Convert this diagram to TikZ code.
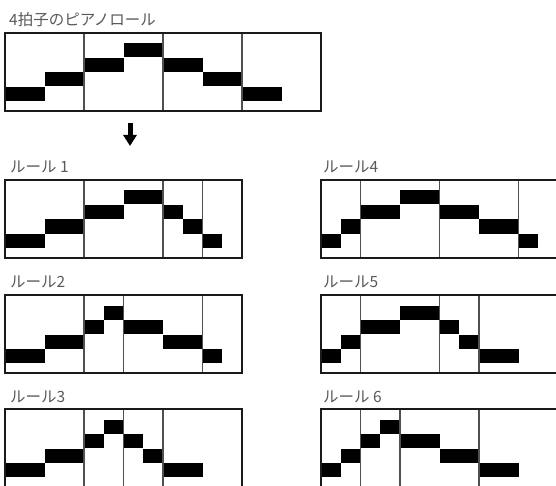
\documentclass[tikz,border=0pt]{standalone}
\usepackage{fontspec}
\newfontfamily\jpfont{Noto Sans CJK JP}
\usetikzlibrary{arrows.meta}
\definecolor{framecolor}{HTML}{1A1A1A}
\definecolor{beatcolor}{HTML}{505050}
\definecolor{labelcolor}{HTML}{595959}
\tikzset{
  rollframe/.style={draw=framecolor, line width=1.4pt},
  beatline/.style={draw=beatcolor, line width=1.1pt},
  notebar/.style={fill=black},
  rulelabel/.style={
    anchor=west,
    inner sep=0pt,
    text=labelcolor,
    font=\jpfont\fontsize{15.5}{18}\selectfont
  },
  downarrow/.style={-{Triangle[width=13pt,length=11pt]}, line width=5pt, draw=black}
}

\begin{document}
\begin{tikzpicture}[x=1pt, y=-1pt]
  \useasboundingbox (0,0) rectangle (556,486);
  % original roll
  \node[rulelabel] (title) at (9,19.5) {4拍子のピアノロール};
  \begin{scope}[shift={(5,33)}, x=19.75pt]
    \foreach \s/\e/\l in {0/2/0, 2/4/1, 4/6/2, 6/8/3, 8/10/2, 10/12/1, 12/14/0}
      \fill[notebar] (\s,{10.5+14.5*(3-\l)}) rectangle (\e,{24.5+14.5*(3-\l)});
    \foreach \b in {4,8,12}
      \draw[beatline] (\b,0) -- (\b,78);
    \draw[rollframe] (0,0) rectangle (16,78);
  \end{scope}
  \coordinate (arrowtop) at (130,123);
  \coordinate (arrowtip) at (130,146);
  \draw[downarrow] (arrowtop) -- (arrowtip);

  % rule 1
  \node[rulelabel] (rule1) at (10,167) {ルール 1};
  \begin{scope}[shift={(5,180)}, x=19.75pt]
    \foreach \s/\e/\l in {0/2/0, 2/4/1, 4/6/2, 6/8/3, 8/9/2, 9/10/1, 10/11/0}
      \fill[notebar] (\s,{10.5+14.5*(3-\l)}) rectangle (\e,{24.5+14.5*(3-\l)});
    \foreach \b in {4,8,10}
      \draw[beatline] (\b,0) -- (\b,78);
    \draw[rollframe] (0,0) rectangle (12,78);
  \end{scope}

  % rule 2
  \node[rulelabel] (rule2) at (10,282) {ルール2};
  \begin{scope}[shift={(5,295)}, x=19.75pt]
    \foreach \s/\e/\l in {0/2/0, 2/4/1, 4/5/2, 5/6/3, 6/8/2, 8/10/1, 10/11/0}
      \fill[notebar] (\s,{10.5+14.5*(3-\l)}) rectangle (\e,{24.5+14.5*(3-\l)});
    \foreach \b in {4,6,10}
      \draw[beatline] (\b,0) -- (\b,78);
    \draw[rollframe] (0,0) rectangle (12,78);
  \end{scope}

  % rule 3
  \node[rulelabel] (rule3) at (10,397) {ルール3};
  \begin{scope}[shift={(5,409)}, x=19.75pt]
    \foreach \s/\e/\l in {0/2/0, 2/4/1, 4/5/2, 5/6/3, 6/7/2, 7/8/1, 8/10/0}
      \fill[notebar] (\s,{10.5+14.5*(3-\l)}) rectangle (\e,{24.5+14.5*(3-\l)});
    \foreach \b in {4,6,8}
      \draw[beatline] (\b,0) -- (\b,78);
    \draw[rollframe] (0,0) rectangle (12,78);
  \end{scope}

  % rule 4
  \node[rulelabel] (rule4) at (323,167) {ルール4};
  \begin{scope}[shift={(321,180)}, x=19.75pt]
    \foreach \s/\e/\l in {0/1/0, 1/2/1, 2/4/2, 4/6/3, 6/8/2, 8/10/1, 10/11/0}
      \fill[notebar] (\s,{10.5+14.5*(3-\l)}) rectangle (\e,{24.5+14.5*(3-\l)});
    \foreach \b in {2,6,10}
      \draw[beatline] (\b,0) -- (\b,78);
    \draw[rollframe] (0,0) rectangle (12,78);
  \end{scope}

  % rule 5
  \node[rulelabel] (rule5) at (323,282) {ルール5};
  \begin{scope}[shift={(321,295)}, x=19.75pt]
    \foreach \s/\e/\l in {0/1/0, 1/2/1, 2/4/2, 4/6/3, 6/7/2, 7/8/1, 8/10/0}
      \fill[notebar] (\s,{10.5+14.5*(3-\l)}) rectangle (\e,{24.5+14.5*(3-\l)});
    \foreach \b in {2,6,8}
      \draw[beatline] (\b,0) -- (\b,78);
    \draw[rollframe] (0,0) rectangle (12,78);
  \end{scope}

  % rule 6
  \node[rulelabel] (rule6) at (323,397) {ルール 6};
  \begin{scope}[shift={(321,409)}, x=19.75pt]
    \foreach \s/\e/\l in {0/1/0, 1/2/1, 2/3/2, 3/4/3, 4/6/2, 6/8/1, 8/10/0}
      \fill[notebar] (\s,{10.5+14.5*(3-\l)}) rectangle (\e,{24.5+14.5*(3-\l)});
    \foreach \b in {2,4,8}
      \draw[beatline] (\b,0) -- (\b,78);
    \draw[rollframe] (0,0) rectangle (12,78);
  \end{scope}
\end{tikzpicture}
\end{document}
